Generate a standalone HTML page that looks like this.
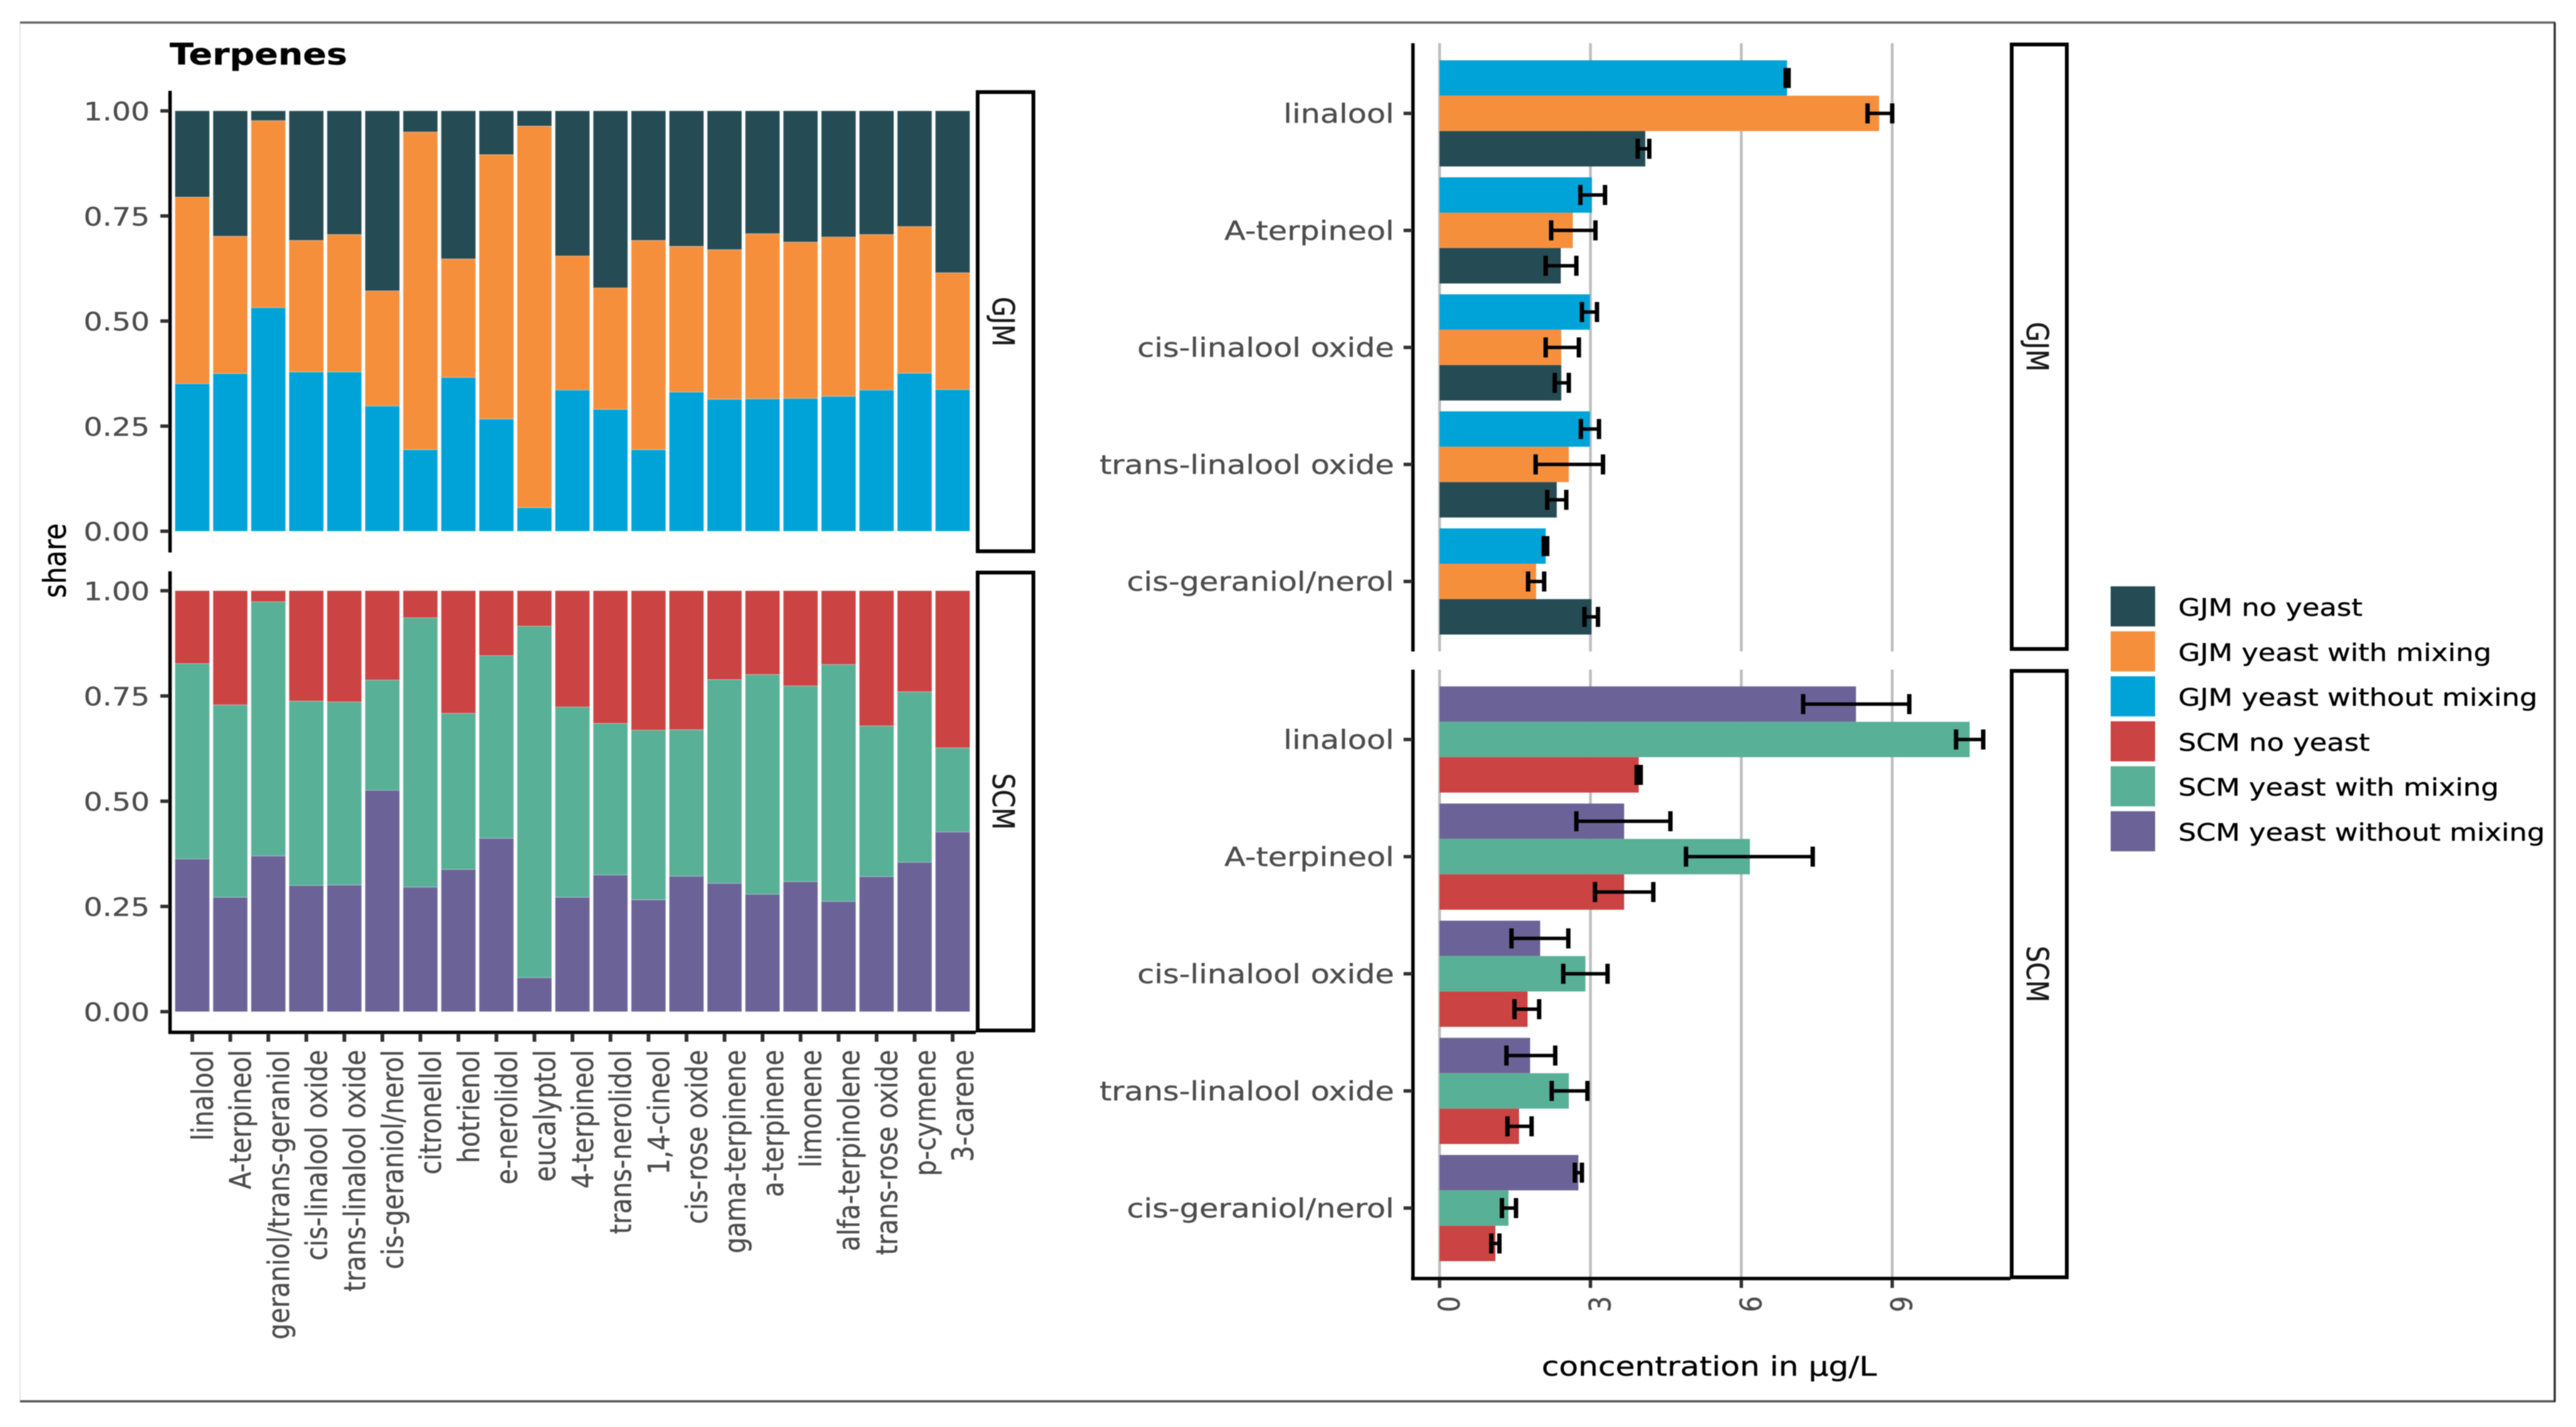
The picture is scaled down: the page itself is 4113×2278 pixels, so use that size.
<!DOCTYPE html>
<html lang="en">
<head>
<meta charset="utf-8">
<title>Terpenes</title>
<style>
html,body{margin:0;padding:0;background:#fff;}
svg{display:block;filter:blur(0.7px);}
text{font-family:"DejaVu Sans","Liberation Sans",sans-serif;}
</style>
</head>
<body>
<svg id="chart" xmlns="http://www.w3.org/2000/svg" width="4113" height="2278" viewBox="0 0 4113 2278"></svg>
<script>
// ---- stacked share chart data ----
const shareCategories = ["linalool","A-terpineol","geraniol/trans-geraniol","cis-linalool oxide","trans-linalool oxide","cis-geraniol/nerol","citronellol","hotrienol","e-nerolidol","eucalyptol","4-terpineol","trans-nerolidol","1,4-cineol","cis-rose oxide","gama-terpinene","a-terpinene","limonene","alfa-terpinolene","trans-rose oxide","p-cymene","3-carene"];
const gjmShareWithout = [.351,.375,.532,.379,.379,.298,.194,.366,.267,.056,.336,.290,.194,.331,.314,.315,.316,.321,.336,.376,.337];
const gjmShareWith = [.444,.327,.445,.313,.327,.274,.756,.282,.629,.908,.319,.289,.498,.347,.356,.393,.372,.379,.370,.349,.278];
const gjmShareNo = [.205,.298,.023,.308,.294,.428,.050,.352,.104,.036,.345,.421,.308,.322,.330,.292,.312,.300,.294,.275,.385];
const scmShareWithout = [.363,.272,.370,.300,.301,.526,.296,.338,.412,.081,.272,.325,.266,.322,.305,.279,.309,.262,.321,.355,.427];
const scmShareWith = [.464,.457,.604,.438,.435,.262,.640,.371,.434,.835,.452,.360,.403,.348,.484,.522,.465,.563,.358,.405,.200];
const scmShareNo = [.173,.271,.026,.262,.264,.212,.064,.291,.154,.084,.276,.315,.331,.330,.211,.199,.226,.175,.321,.240,.373];
const shareTicks = [0,0.25,0.5,0.75,1];
const shareTickLabels = ["0.00","0.25","0.50","0.75","1.00"];

// ---- concentration chart data ----
const concCategories = ["linalool","A-terpineol","cis-linalool oxide","trans-linalool oxide","cis-geraniol/nerol"];
const gjmConcWithout = [6.91,3.03,2.99,2.99,2.11];
const gjmConcWithoutLow = [6.88,2.80,2.83,2.81,2.07];
const gjmConcWithoutHigh = [6.94,3.29,3.13,3.17,2.14];
const gjmConcWith = [8.74,2.65,2.42,2.57,1.92];
const gjmConcWithLow = [8.51,2.22,2.11,1.91,1.76];
const gjmConcWithHigh = [9.00,3.10,2.77,3.25,2.08];
const gjmConcNo = [4.09,2.41,2.42,2.33,3.02];
const gjmConcNoLow = [3.94,2.11,2.29,2.14,2.88];
const gjmConcNoHigh = [4.17,2.72,2.57,2.52,3.15];
const scmConcWithout = [8.28,3.67,2.00,1.80,2.76];
const scmConcWithoutLow = [7.23,2.72,1.43,1.33,2.69];
const scmConcWithoutHigh = [9.34,4.59,2.56,2.30,2.83];
const scmConcWith = [10.54,6.17,2.90,2.57,1.37];
const scmConcWithLow = [10.27,4.90,2.46,2.23,1.24];
const scmConcWithHigh = [10.81,7.42,3.34,2.94,1.52];
const scmConcNo = [3.96,3.67,1.75,1.58,1.11];
const scmConcNoLow = [3.92,3.09,1.49,1.35,1.03];
const scmConcNoHigh = [4.00,4.25,1.98,1.83,1.19];
const concTicks = [0,3,6,9];
const concTickLabels = ["0","3","6","9"];

// ---- legend ----
const legendLabels = ["GJM no yeast","GJM yeast with mixing","GJM yeast without mixing","SCM no yeast","SCM yeast with mixing","SCM yeast without mixing"];
const legendColors = ["#254b54","#f68f3c","#00a3d8","#cb4342","#58b096","#6b6398"];

const NS = "http://www.w3.org/2000/svg";
const svg = document.getElementById("chart");
const SX = 1.17;
const TICK_GREY = "#4d4d4d";

function mk(tag, attrs) {
  const el = document.createElementNS(NS, tag);
  for (const k in attrs) el.setAttribute(k, attrs[k]);
  svg.appendChild(el);
  return el;
}
function txt(str, x, y, size, anchor, rot, fill, weight) {
  const el = mk("text", {
    transform: "translate(" + x + "," + y + ") scale(" + SX + ",1) rotate(" + rot + ")",
    "font-size": size, "text-anchor": anchor, fill: fill, "font-weight": weight || "normal",
    stroke: fill, "stroke-width": 0.4
  });
  el.textContent = str;
  return el;
}
function slug(s) { return s.toLowerCase().replace(/[^a-z0-9]+/g, "-").replace(/^-|-$/g, ""); }

// axis functions
function xShare(i) { return 307 + i * 60.7; }
const SHARE_BAR = 55;
function yShareFn(top, bottom) { return function (v) { return bottom - v * (bottom - top); }; }
function xConc(v) { return 2298.5 + v * 80.3; }
function yConcFn(first, step) { return function (i) { return first + i * step; }; }

// page frame
let frame = mk("rect", {x:32, y:36, width:4047, height:2201, fill:"#fff", stroke:"#e4e4e4", "stroke-width":2});


let frameTop = mk("line", {x1:32, y1:36, x2:4080, y2:36, stroke:"#666", "stroke-width":3.5});


let frameBottom = mk("line", {x1:32, y1:2237, x2:4080, y2:2237, stroke:"#555", "stroke-width":3.5});


let frameRight = mk("line", {x1:4079, y1:36, x2:4079, y2:2238, stroke:"#333", "stroke-width":3.5});



// title
let title = txt("Terpenes", 271, 103, 47.5, "start", 0, "#000", "bold");



let shareTitle = txt("share", 105, 895, 43, "middle", -90, "#000");



function drawStrip(label, x, y, w, h, baseX) {
  const r = mk("rect", {x:x, y:y, width:w, height:h, fill:"#fff", stroke:"#000", "stroke-width":6});
  
  
  const t = txt(label, baseX, y + h / 2, 41, "middle", 90, "#1a1a1a");
  
  
}

function drawSharePanel(name, top, bottom, axTop, axBottom, series, colors) {
  const y = yShareFn(top, bottom);
  const axis = mk("line", {x1:271.5, y1:axTop, x2:271.5, y2:axBottom, stroke:"#000", "stroke-width":5.5});
  
  
  shareTicks.forEach(function (t, k) {
    const tick = mk("line", {x1:256, y1:y(t), x2:270, y2:y(t), stroke:"#333", "stroke-width":5.5});
    
    
    const lab = txt(shareTickLabels[k], 239, y(t) + 15, 40.5, "end", 0, TICK_GREY);
    
    
  });
  shareCategories.forEach(function (c, i) {
    let acc = 0;
    series.forEach(function (arr, s) {
      const y0 = y(acc), y1 = y(acc + arr[i]);
      acc += arr[i];
      const b = mk("rect", {x:xShare(i) - SHARE_BAR / 2, y:y1, width:SHARE_BAR, height:y0 - y1, fill:colors[s], stroke:"rgba(255,255,255,.22)", "stroke-width":1.5});
      
      
    });
  });
}

drawSharePanel("gjm", 177, 848, 145, 882, [gjmShareWithout, gjmShareWith, gjmShareNo], ["#00a3d8", "#f68f3c", "#254b54"]);
drawSharePanel("scm", 943, 1615, 912, 1650, [scmShareWithout, scmShareWith, scmShareNo], ["#6b6398", "#58b096", "#cb4342"]);

let shareBottomAxis = mk("line", {x1:269, y1:1648, x2:1558, y2:1648, stroke:"#000", "stroke-width":5.5});


shareCategories.forEach(function (c, i) {
  const tick = mk("line", {x1:xShare(i), y1:1650, x2:xShare(i), y2:1663, stroke:"#333", "stroke-width":6});
  
  
  const lab = txt(c, xShare(i) + 33, 1676, 40.5, "end", -90, TICK_GREY);
  
  
});
drawStrip("GJM", 1561, 147, 89, 733, 1585);
drawStrip("SCM", 1561, 914, 89, 731, 1585);

// concentration panels
function drawGrid(top, bottom) {
  concTicks.forEach(function (t) {
    const g = mk("line", {x1:xConc(t), y1:top, x2:xConc(t), y2:bottom, stroke:"#bebebe", "stroke-width":4.5});
    
    
  });
}
function drawConcPanel(name, firstY, step, barH, axTop, axBottom, series) {
  const y = yConcFn(firstY, step);
  drawGrid(axTop, axBottom);
  const axis = mk("line", {x1:2256, y1:axTop, x2:2256, y2:axBottom, stroke:"#000", "stroke-width":5.5});
  
  
  concCategories.forEach(function (c, i) {
    const tick = mk("line", {x1:2241, y1:y(i), x2:2255, y2:y(i), stroke:"#333", "stroke-width":5.5});
    
    
    const lab = txt(c, 2226, y(i) + 15, 42.2, "end", 0, TICK_GREY);
    
    
    series.forEach(function (s, k) {
      const cy = y(i) + (k - 1) * barH;
      const b = mk("rect", {x:xConc(0), y:cy - barH / 2, width:xConc(s.val[i]) - xConc(0), height:barH, fill:s.color});
      
      
    });
    series.forEach(function (s, k) {
      const cy = y(i) + (k - 1) * barH;
      const x0 = xConc(s.low[i]), x1 = xConc(s.high[i]);
      const capH = 16;
      const caps = "M" + x0 + " " + (cy - capH) + "V" + (cy + capH) + "M" + x1 + " " + (cy - capH) + "V" + (cy + capH);
      const e = mk("path", {d:caps, fill:"none", stroke:"#000", "stroke-width":7});
      
      
      const stem = mk("line", {x1:x0, y1:cy, x2:x1, y2:cy, stroke:"#000", "stroke-width":5.5});
      
      
    });
  });
}
drawConcPanel("gjm", 181, 186.8, 56.5, 69, 1040, [
  {val:gjmConcWithout, low:gjmConcWithoutLow, high:gjmConcWithoutHigh, color:"#00a3d8"},
  {val:gjmConcWith, low:gjmConcWithLow, high:gjmConcWithHigh, color:"#f68f3c"},
  {val:gjmConcNo, low:gjmConcNoLow, high:gjmConcNoHigh, color:"#254b54"}
]);
drawConcPanel("scm", 1180.5, 187, 56.5, 1069, 2041, [
  {val:scmConcWithout, low:scmConcWithoutLow, high:scmConcWithoutHigh, color:"#6b6398"},
  {val:scmConcWith, low:scmConcWithLow, high:scmConcWithHigh, color:"#58b096"},
  {val:scmConcNo, low:scmConcNoLow, high:scmConcNoHigh, color:"#cb4342"}
]);
let concAxis = mk("line", {x1:2253, y1:2041, x2:3210, y2:2041, stroke:"#000", "stroke-width":5.5});


concTicks.forEach(function (t, k) {
  const tick = mk("line", {x1:xConc(t), y1:2043, x2:xConc(t), y2:2056, stroke:"#333", "stroke-width":5.5});
  
  
  const lab = txt(concTickLabels[k], xConc(t) + 32, 2069, 40.5, "end", -90, TICK_GREY);
  
  
});
let concTitle = txt("concentration in \u00b5g/L", 2729, 2196, 43, "middle", 0, "#000");


drawStrip("GJM", 3212, 71, 88, 965, 3236);
drawStrip("SCM", 3212, 1071, 88, 968, 3236);

// legend
legendLabels.forEach(function (l, i) {
  const cy = 968 + i * 71.8;
  const key = mk("rect", {x:3370, y:cy - 32, width:71, height:64, fill:legendColors[i]});
  
  
  const t = txt(l, 3478, cy + 15, 38.4, "start", 0, "#000");
  
  
});
</script>
</body>
</html>
